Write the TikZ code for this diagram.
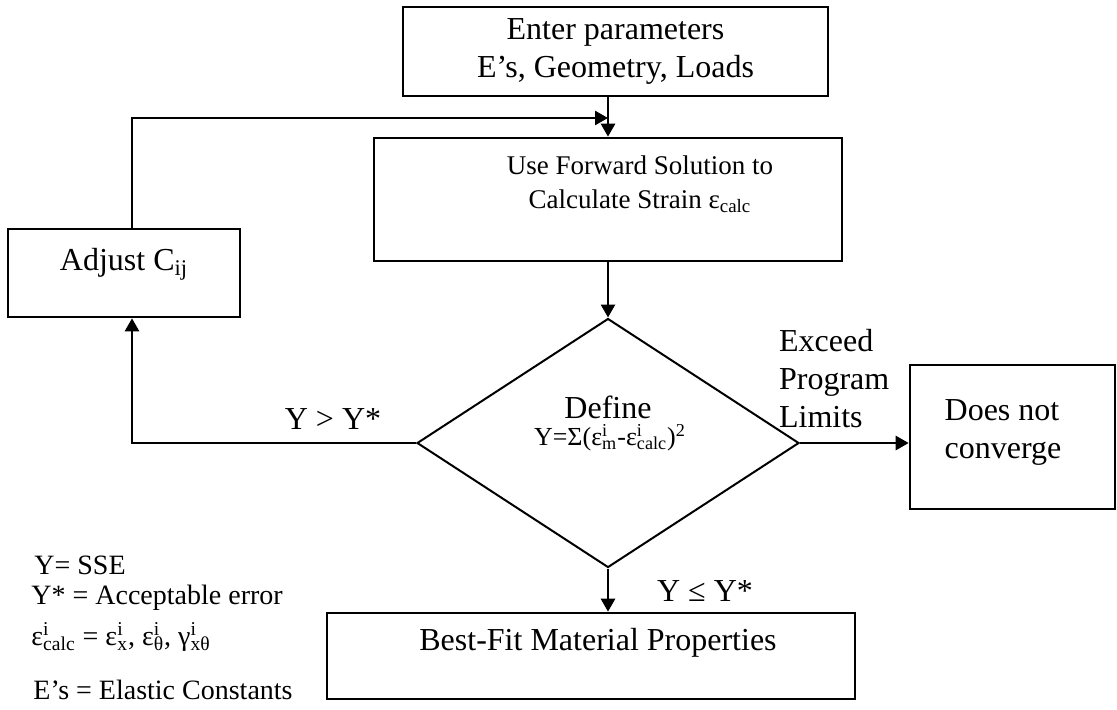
\documentclass[tikz,border=0pt]{standalone}
\usepackage{fontspec}
\setmainfont{Liberation Serif}
\usetikzlibrary{arrows.meta,shapes.geometric}

\newcommand\supsub[2]{\rlap{\textsuperscript{#1}}\textsubscript{#2}}

\begin{document}
\begin{tikzpicture}[x=0.5pt,y=-0.5pt,
  box/.style={draw,line width=1.3pt,inner sep=0pt},
  arr/.style={draw,line width=1.3pt,-{Triangle[length=6.5pt,width=7pt]}},
  big/.style={font=\fontsize{16}{19}\selectfont},
  small/.style={font=\fontsize{13.5}{17}\selectfont},
  legend/.style={anchor=west,inner sep=0pt,font=\fontsize{14}{16}\selectfont}]
\useasboundingbox (0,0) rectangle (1117,709);
% boxes
\node[box,big,align=center,minimum width=212.5pt,minimum height=44.5pt] (enter) at (615.5,51.5) {Enter parameters\\E’s, Geometry, Loads};
\node[box,minimum width=234pt,minimum height=61.5pt] (fwd) at (608,199.5) {};
\node[small,align=center] (fwdtext) at (640,184.5) {Use Forward Solution to\\Calculate Strain ε\textsubscript{calc}};
\node[box,minimum width=116pt,minimum height=44pt] (adjust) at (124,273) {};
\node[big] (adjusttext) at (124,264) {Adjust C\textsubscript{ij}};
\node[draw,diamond,line width=1pt,inner sep=0pt,minimum width=191pt,minimum height=124.5pt] (dec) at (608,443) {};
\node[big] (define) at (608,407) {Define};
\node[font=\fontsize{13}{15}\selectfont] (formula) at (610,438) {Y=Σ(ε\supsub{i}{m}-ε\supsub{i}{calc})\textsuperscript{2}};
\node[box,minimum width=102.5pt,minimum height=72pt] (noconv) at (1012.5,437) {};
\node[big,align=left] (noconvtext) at (1003,432) {Does not\\converge};
\node[box,minimum width=264pt,minimum height=43pt] (best) at (591,656) {};
\node[big] (besttext) at (598,643) {Best-Fit Material Properties};
% connectors
\coordinate (join) at (608,118);
\path[arr] (enter.south -| fwd.north) -- (fwd.north);
\path[arr] ([xshift=4pt]adjust.north) |- (join);
\path[arr] (fwd.south) -- (dec.north);
\path[arr] (dec.west) -| ([xshift=4pt]adjust.south);
\path[arr] (dec.east) -- (dec.east -| noconv.west);
\path[arr] (dec.south) -- (dec.south |- best.north);
% labels
\node[big] (gt) at (333,419) {Y > Y*};
\node[big,align=left,anchor=west] (exceed) at (772,379) {Exceed\\Program\\Limits};
\node[big] (le) at (705,591) {Y ≤ Y*};
% legend
\node[legend] (sse) at (34,565) {Y= SSE};
\node[legend] (accept) at (31,598) {Y* = Acceptable error};
\node[legend] (strain) at (31,637) {ε\supsub{i}{calc} = ε\supsub{i}{x}, ε\supsub{i}{θ}, γ\supsub{i}{xθ}};
\node[legend] (econst) at (33,690) {E’s = Elastic Constants};
\end{tikzpicture}
\end{document}
